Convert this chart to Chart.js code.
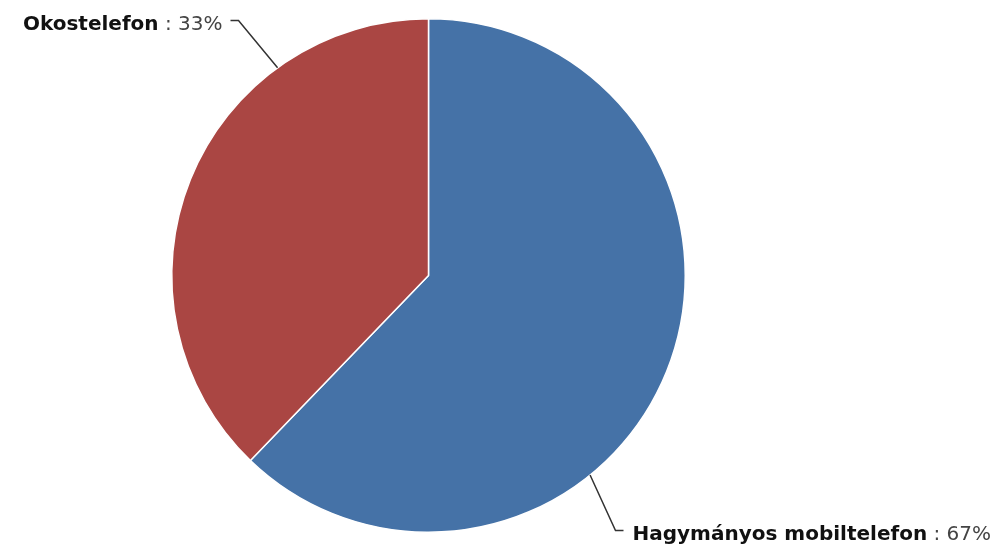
<!DOCTYPE html>
<html>
<head>
<meta charset="utf-8">
<script src="https://cdn.jsdelivr.net/npm/chart.js@4/dist/chart.umd.min.js"></script>
<style>
	body { margin: 0; background: #fff; }
	#wrap { position: relative; width: 1005px; height: 547px; }
</style>
</head>
<body>
<div id="wrap"><canvas id="pie"></canvas></div>
<script>
// categories and slice sizes
const categories = ['Hagymányos mobiltelefon', 'Okostelefon'];
const sliceValues = [62.2, 37.8];
// percentages as printed in the labels
const shownPercents = ['67%', '33%'];
const sliceColors = ['#4572A7', '#AA4643'];

// label placement around the pie (layout only)
const labelSpots = [
	{ angle: 141, elbowDx: 187, elbowDy: 255, side: 1 },
	{ angle: 324, elbowDx: -190, elbowDy: -255, side: -1 },
];

const pieLabels = {
	id: 'pieLabels',
	afterDraw(chart) {
		const ctx = chart.ctx;
		const meta = chart.getDatasetMeta(0);
		const first = meta.data[0];
		const cx = first.x, cy = first.y, r = first.outerRadius;
		ctx.save();
		categories.forEach((name, i) => {
			const spot = labelSpots[i];
			const a = spot.angle * Math.PI / 180;
			const px = cx + r * Math.sin(a);
			const py = cy - r * Math.cos(a);
			const ex = cx + spot.elbowDx;
			const ey = cy + spot.elbowDy;
			const hx = ex + spot.side * 8;
			ctx.strokeStyle = '#333';
			ctx.lineWidth = 1.5;
			ctx.beginPath();
			ctx.moveTo(px, py);
			ctx.lineTo(ex, ey);
			ctx.lineTo(hx, ey);
			ctx.stroke();

			const boldFont = 'bold 20px "DejaVu Sans", sans-serif';
			const normFont = '20px "DejaVu Sans", sans-serif';
			const rest = ' : ' + shownPercents[i];
			ctx.font = boldFont;
			const wName = ctx.measureText(name).width;
			ctx.font = normFont;
			const wRest = ctx.measureText(rest).width;
			const baseY = ey + 9;
			let x = spot.side > 0 ? hx + 9 : hx - 8 - wName - wRest;
			ctx.textBaseline = 'alphabetic';
			ctx.textAlign = 'left';
			ctx.font = boldFont;
			ctx.fillStyle = '#111';
			ctx.fillText(name, x, baseY);
			ctx.font = normFont;
			ctx.fillStyle = '#444';
			ctx.fillText(rest, x + wName, baseY);
		});
		ctx.restore();
	},
};

new Chart(document.getElementById('pie').getContext('2d'), {
	type: 'pie',
	data: {
		labels: categories,
		datasets: [{
			data: sliceValues,
			backgroundColor: sliceColors,
			borderColor: '#fff',
			borderWidth: 1.5,
		}],
	},
	options: {
		responsive: true,
		maintainAspectRatio: false,
		animation: false,
		layout: { padding: { left: 171, right: 319, top: 18, bottom: 14 } },
		plugins: {
			legend: { display: false },
			tooltip: { enabled: false },
		},
	},
	plugins: [pieLabels],
});
</script>
</body>
</html>
